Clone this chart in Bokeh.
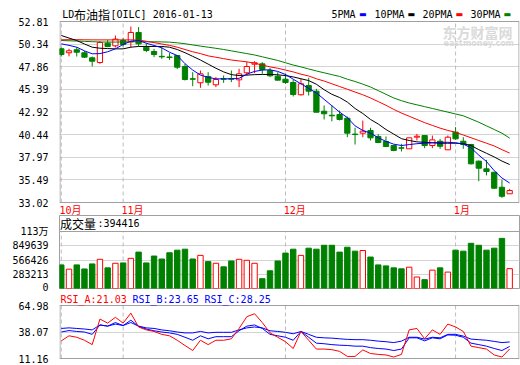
from bokeh.plotting import figure
from bokeh.models import Range1d, FixedTicker, Span, Label
from bokeh.layouts import column
from bokeh.embed import file_html
from bokeh.resources import INLINE

# ---------------- data ----------------
title_name = "LD"
title_cjk = "布油指"
title_rest = "[OILC] 2016-01-13"
month_labels = ["10月", "11月", "12月", "1月"]
month_starts = [0, 8, 29, 51]

opens = [49.83, 49.39, 49.72, 49.39, 48.84, 48.33, 50.44, 50.15, 50.73, 50.59,
         51.61, 50.0, 49.53, 49.0, 48.93, 49.09, 47.89, 46.55, 46.11, 46.8,
         45.89, 46.55, 46.58, 46.43, 47.2, 48.14, 48.18, 47.45, 46.83, 46.5,
         46.14, 44.8, 45.81, 45.19, 43.0, 42.56, 42.64, 42.24, 40.5, 40.6,
         40.89, 40.24, 39.69, 39.25, 39.0, 38.89, 40.16, 40.34, 39.25, 39.72,
         38.78, 40.71, 39.72, 39.36, 37.54, 36.7, 36.33, 34.69, 33.97]
highs = [49.95, 49.83, 50.0, 49.57, 48.98, 50.66, 50.8, 51.28, 51.0, 52.26,
         52.2, 50.44, 49.82, 50.0, 49.35, 49.1, 48.18, 47.27, 47.45, 47.27,
         46.73, 46.91, 47.45, 47.64, 48.4, 48.47, 48.36, 47.72, 47.27, 47.09,
         46.43, 46.54, 46.65, 45.45, 43.63, 43.63, 43.08, 42.42, 41.19, 41.98,
         41.19, 40.5, 40.24, 39.33, 39.43, 40.09, 40.52, 40.34, 40.34, 39.98,
         40.34, 41.26, 40.16, 39.43, 37.61, 37.68, 36.33, 35.5, 34.51]
lows = [48.98, 49.0, 48.98, 48.84, 47.9, 48.18, 50.0, 49.97, 50.08, 50.0,
        50.1, 49.46, 48.91, 48.73, 48.62, 47.6, 46.36, 45.74, 45.56, 45.81,
        45.63, 46.1, 46.18, 45.63, 46.91, 47.16, 47.09, 46.73, 46.36, 45.99,
        44.61, 44.72, 44.72, 42.89, 42.1, 41.9, 41.99, 40.16, 39.36, 40.16,
        39.8, 39.51, 39.07, 38.63, 38.6, 38.89, 39.8, 38.96, 38.96, 38.89,
        38.78, 39.87, 38.89, 37.17, 35.35, 35.98, 34.51, 33.53, 33.97]
closes = [49.2, 49.61, 49.45, 48.91, 48.47, 50.51, 50.08, 50.88, 50.3, 51.61,
          50.37, 49.64, 49.2, 48.95, 48.88, 47.81, 46.47, 46.5, 47.09, 46.17,
          46.47, 46.5, 46.5, 47.09, 47.89, 48.3, 47.56, 46.87, 46.4, 46.14,
          44.83, 46.0, 45.19, 42.89, 42.72, 42.5, 42.1, 40.6, 40.45, 40.82,
          40.09, 39.58, 39.14, 38.71, 38.96, 40.09, 40.27, 39.25, 39.87, 39.17,
          40.16, 39.98, 39.36, 37.25, 36.77, 36.41, 34.58, 33.7, 34.33]

ma5 = [50.37, 50.2, 50.0, 49.6, 49.28, 49.3, 49.5, 49.82, 50.3, 50.66,
       50.73, 50.44, 50.19, 49.93, 49.45, 49.09, 48.2, 47.5, 46.95, 46.7,
       46.54, 46.54, 46.54, 46.6, 47.05, 47.35, 47.5, 47.53, 47.35, 47.02,
       46.5, 46.0, 45.5, 45.0, 44.3, 43.6, 42.9, 42.3, 41.4, 40.9,
       40.6, 40.1, 39.7, 39.4, 39.25, 39.35, 39.45, 39.5, 39.55, 39.6,
       39.6, 39.55, 39.4, 39.0, 38.2, 37.5, 36.5, 35.7, 35.15]
ma10 = [51.28, 51.0, 50.73, 50.35, 50.0, 49.89, 49.85, 49.82, 49.82, 50.0,
        50.08, 50.08, 50.08, 50.08, 50.0, 49.75, 49.4, 49.0, 48.6, 48.15,
        47.7, 47.3, 47.0, 46.9, 46.95, 47.0, 47.02, 47.02, 46.98, 46.9,
        46.75, 46.55, 46.35, 45.95, 45.35, 44.85, 44.5, 44.0, 43.3, 42.75,
        42.1, 41.6, 41.0, 40.5, 40.0, 39.8, 39.65, 39.6, 39.55, 39.5,
        39.5, 39.5, 39.45, 39.25, 38.8, 38.4, 38.0, 37.55, 37.17]
ma20 = [50.81, 50.82, 50.82, 50.81, 50.8, 50.8, 50.8, 50.8, 50.8, 50.8,
        50.78, 50.65, 50.5, 50.35, 50.2, 50.0, 49.75, 49.5, 49.3, 49.05,
        48.9, 48.75, 48.6, 48.5, 48.4, 48.25, 48.05, 47.85, 47.7, 47.5,
        47.3, 47.05, 46.85, 46.55, 46.3, 46.0, 45.7, 45.4, 45.1, 44.8,
        44.45, 44.05, 43.65, 43.2, 42.8, 42.45, 42.1, 41.75, 41.45, 41.15,
        40.9, 40.7, 40.4, 40.1, 39.8, 39.5, 39.2, 38.8, 38.42]
ma30 = [50.73, 50.7, 50.67, 50.64, 50.6, 50.57, 50.56, 50.56, 50.57, 50.59,
        50.6, 50.6, 50.59, 50.58, 50.55, 50.48, 50.38, 50.25, 50.12, 50.0,
        49.88, 49.75, 49.6, 49.45, 49.3, 49.15, 48.95, 48.75, 48.55, 48.3,
        48.05, 47.85, 47.62, 47.4, 47.2, 47.0, 46.8, 46.5, 46.25, 45.96,
        45.65, 45.25, 44.85, 44.45, 44.15, 43.9, 43.7, 43.5, 43.3, 43.1,
        42.9, 42.7, 42.5, 42.15, 41.8, 41.4, 41.0, 40.6, 40.06]
ma_names = ["5PMA", "10PMA", "20PMA", "30PMA"]

volumes = [468768, 384120, 469350, 388470, 488260, 580140, 410330, 501270, 508190, 599460,
           723080, 508310, 645220, 586170, 710390, 762040, 781450, 586320, 658210, 534170,
           501380, 430260, 547110, 580230, 560470, 501160, 195320, 352080, 547390, 703150,
           781260, 658340, 801120, 781390, 859210, 859470, 723160, 820380, 742250, 755130,
           625240, 469180, 449360, 410270, 391150, 423080, 228340, 176210, 365190, 410360,
           326170, 762290, 742130, 898260, 859140, 762380, 801230, 996170, 394416]
volume_name = "成交量"

rsi_a = [29.4, 34.6, 33.1, 30.0, 25.5, 51.9, 47.7, 53.7, 47.7, 58.0,
         43.7, 40.7, 39.1, 36.1, 34.6, 30.0, 24.6, 19.4, 30.0, 25.5,
         30.0, 30.0, 31.5, 42.2, 54.3, 57.4, 48.3, 37.6, 33.1, 28.5,
         21.5, 39.1, 30.0, 20.9, 20.9, 20.3, 18.5, 13.3, 13.3, 20.0,
         16.3, 15.4, 14.8, 12.7, 15.4, 40.7, 42.2, 31.5, 40.7, 36.1,
         46.7, 43.7, 39.1, 23.9, 22.4, 20.9, 14.8, 12.7, 21.03]
rsi_b = [38.5, 40.0, 39.1, 38.5, 36.1, 45.8, 44.6, 48.3, 45.2, 50.7,
         44.3, 41.6, 39.8, 38.5, 37.6, 36.1, 33.1, 30.0, 34.6, 31.5,
         33.7, 33.7, 33.7, 39.8, 44.6, 45.8, 42.2, 36.1, 34.6, 33.1,
         30.0, 39.1, 33.1, 27.0, 26.4, 25.5, 24.9, 24.6, 23.9, 23.9,
         22.4, 21.5, 20.9, 19.4, 20.9, 32.5, 32.5, 29.4, 32.5, 31.5,
         35.5, 35.2, 33.1, 27.0, 25.5, 23.9, 21.5, 19.4, 23.65]
rsi_c = [42.2, 42.8, 42.2, 41.6, 40.7, 45.8, 44.6, 46.7, 45.2, 48.3,
         44.6, 42.8, 42.2, 40.7, 39.8, 38.5, 37.6, 37.6, 39.1, 37.6,
         38.2, 38.2, 38.2, 40.7, 42.8, 43.7, 42.8, 39.8, 39.1, 38.2,
         36.7, 39.1, 36.1, 33.1, 32.5, 32.2, 31.5, 30.9, 30.6, 30.6,
         30.0, 29.1, 28.5, 27.6, 29.1, 33.1, 33.1, 31.2, 33.1, 32.5,
         36.1, 36.1, 34.3, 31.2, 30.6, 30.0, 28.8, 27.6, 28.25]
rsi_names = ["RSI_A", "RSI_B", "RSI_C"]

price_ticks = [33.02, 35.49, 37.97, 40.44, 42.92, 45.39, 47.86, 50.34, 52.81]
volume_ticks = [0, 283213, 566426, 849639, 1132852]
volume_tick_labels = ["0", "283213", "566426", "849639", "113万"]
rsi_ticks = [11.16, 38.07, 64.98]

# ---------------- style ----------------
UP, DOWN = "#ff0000", "#008000"
MA_COLORS = ["#0000ff", "#000000", "#ff0000", "#008000"]
RSI_COLORS = ["#ff0000", "#0000ff", "#0000ff"]
BORDER = "#a0a0a0"
GRID = "#d4d4d4"
DASH = "#bcbcbc"
MONO = "DejaVu Sans Mono"
CJK = "Noto Sans CJK SC"
MIX = "DejaVu Sans Mono, Noto Sans CJK SC"

BL, BR, FW = 59, 1, 460
n = len(closes)
idx = list(range(n))
X0, X1 = -0.23, 59.27
xr = Range1d(X0, X1)
XPX = (X1 - X0) / FW          # bar units per pixel


def rx(ref_x):
    # horizontal position (bar units) of a pixel column of the page
    return X0 + (ref_x - BL) * XPX


def make(frame_h, yr, bottom):
    p = figure(frame_width=FW, frame_height=frame_h, x_range=xr, y_range=yr,
               min_border_left=BL, min_border_right=BR,
               min_border_top=0, min_border_bottom=bottom,
               x_axis_location=None,
               output_backend="svg", toolbar_location=None, title=None)
    p.outline_line_color = None
    p.background_fill_color = "white"
    p.border_fill_color = "white"
    for g in p.xgrid:
        g.visible = False
    return p


def style_y(p, ticks, labels, grid_ticks):
    ax = p.yaxis[0]
    ax.ticker = FixedTicker(ticks=ticks)
    ax.major_label_overrides = {t: s for t, s in zip(ticks, labels)}
    ax.axis_line_color = None
    ax.major_tick_line_color = None
    ax.minor_tick_line_color = None
    ax.major_label_standoff = 5
    ax.major_label_text_font = MIX
    ax.major_label_text_font_size = "10px"
    ax.major_label_text_color = "black"
    g = p.ygrid[0]
    g.ticker = FixedTicker(ticks=grid_ticks)
    g.grid_line_color = GRID
    g.grid_line_width = 1


def box(p, lo, hi):
    # panel border drawn between the two limits of the value axis
    for v in (lo, hi):
        p.add_layout(Span(location=v, dimension="width", line_color=BORDER, line_width=1))
    p.segment(x0=[X0 + 0.5 * XPX, X1 - 0.5 * XPX], y0=[lo, lo],
              x1=[X0 + 0.5 * XPX, X1 - 0.5 * XPX], y1=[hi, hi],
              line_color=BORDER, line_width=1)


def month_lines(p, lo, hi):
    k = len(month_starts)
    p.segment(x0=month_starts, y0=[lo] * k, x1=month_starts, y1=[hi] * k,
              line_color=DASH, line_width=1, line_dash="4 3")


def lab(p, x, y, text, color="black", size="10px", font=MONO, bold=False):
    p.add_layout(Label(x=x, y=y, text=text, text_color=color, text_font_size=size,
                       text_font=font, text_align="left", text_baseline="middle",
                       text_font_style="bold" if bold else "normal"))


# ---------------- main price panel ----------------
P_LO, P_HI = price_ticks[0], price_ticks[-1]
F1, TOP1, BOT1 = 215, 21, 202          # frame height, pixel rows of the top / bottom value
ppx = (P_HI - P_LO) / (BOT1 - TOP1)
p1 = make(F1, Range1d(P_LO - (F1 - BOT1) * ppx, P_HI + TOP1 * ppx), 0)
style_y(p1, price_ticks, [f"{t:.2f}" for t in price_ticks], price_ticks[1:-1])

month_lines(p1, P_LO, P_HI)
box(p1, P_LO, P_HI)

# month names under the price panel
for s, name in zip(month_starts, month_labels):
    lab(p1, s - 1.7 * XPX, P_LO - 7.5 * ppx, name, color=UP, size="10px", font=MIX)

up_i = [i for i in idx if closes[i] > opens[i]]
dn_i = [i for i in idx if closes[i] <= opens[i]]
wick_col = [UP if closes[i] > opens[i] else DOWN for i in idx]
p1.segment(x0=idx, y0=lows, x1=idx, y1=highs, line_color=wick_col, line_width=1)
p1.vbar(x=dn_i, width=0.68, top=[opens[i] for i in dn_i], bottom=[closes[i] for i in dn_i],
        fill_color=DOWN, line_color=DOWN, line_width=1)
p1.vbar(x=up_i, width=0.68, top=[closes[i] for i in up_i], bottom=[opens[i] for i in up_i],
        fill_color="white", line_color=UP, line_width=1)

for series, col in zip([ma30, ma20, ma10, ma5], MA_COLORS[::-1]):
    p1.line(idx, series, line_color=col, line_width=1)

# watermark
lab(p1, rx(442), P_HI - 10.0 * ppx, "东方财富网", color="#dadada", size="14px", font=CJK, bold=True)
lab(p1, rx(443), P_HI - 21.5 * ppx, "eastmoney.com", color="#dadada", size="8px", font="DejaVu Sans", bold=True)

# title and legend row (upper band of the frame, above the top border)
ty = P_HI + 7.0 * ppx
lab(p1, rx(61.7), ty, title_name, size="10px", font=MONO)
lab(p1, rx(73.5), ty, title_cjk, size="12px", font=CJK)
lab(p1, rx(110), ty, title_rest, size="10px", font=MONO)
legend_x = [(331, 358.5), (374, 407), (422, 455), (470, 503)]
for name, col, (tx, mx) in zip(ma_names, MA_COLORS, legend_x):
    lab(p1, rx(tx), ty, name, size="10px", font=MONO)
    lab(p1, rx(mx), ty, "▬", color=col, size="8px", font="DejaVu Sans")

# ---------------- volume panel ----------------
F2, VTOP = 73, 16
vmax = volume_ticks[-1] * F2 / (F2 - VTOP)
p2 = make(F2, Range1d(0, vmax), 4)
p2.outline_line_color = BORDER
style_y(p2, volume_ticks, volume_tick_labels, volume_ticks[1:-1])
p2.add_layout(Span(location=volume_ticks[-1], dimension="width", line_color=BORDER, line_width=1))
month_lines(p2, 0, volume_ticks[-1])
p2.vbar(x=dn_i, width=0.7, top=[volumes[i] for i in dn_i], bottom=0,
        fill_color=DOWN, line_color=DOWN, line_width=1)
p2.vbar(x=up_i, width=0.7, top=[volumes[i] for i in up_i], bottom=0,
        fill_color="white", line_color=UP, line_width=1)
vy = vmax - 8.0 * vmax / F2
lab(p2, rx(59.5), vy, volume_name, size="12px", font=CJK)
lab(p2, rx(97), vy, f":{volumes[-1]}", size="10px", font=MONO)

# ---------------- RSI panel ----------------
F3, TOP3, BOT3 = 67, 13, 66
R_LO, R_HI = rsi_ticks[0], 65.9
rpx = (R_HI - R_LO) / (BOT3 - TOP3)
p3 = make(F3, Range1d(R_LO - (F3 - BOT3) * rpx, R_HI + TOP3 * rpx), 6)
style_y(p3, rsi_ticks, [f"{t:.2f}" for t in rsi_ticks], [rsi_ticks[1]])
month_lines(p3, R_LO, R_HI)
box(p3, R_LO, R_HI)
for series, col in zip([rsi_c, rsi_b, rsi_a], RSI_COLORS[::-1]):
    p3.line(idx, series, line_color=col, line_width=1)
ry = R_HI + 6.5 * rpx
for name, series, col, tx in zip(rsi_names, [rsi_a, rsi_b, rsi_c], RSI_COLORS, [60, 132, 204]):
    lab(p3, rx(tx), ry, f"{name}:{series[-1]:.2f}", color=col, size="10px", font=MONO)

layout = column(p1, p2, p3)
open("out.html", "w").write(file_html(layout, INLINE))
